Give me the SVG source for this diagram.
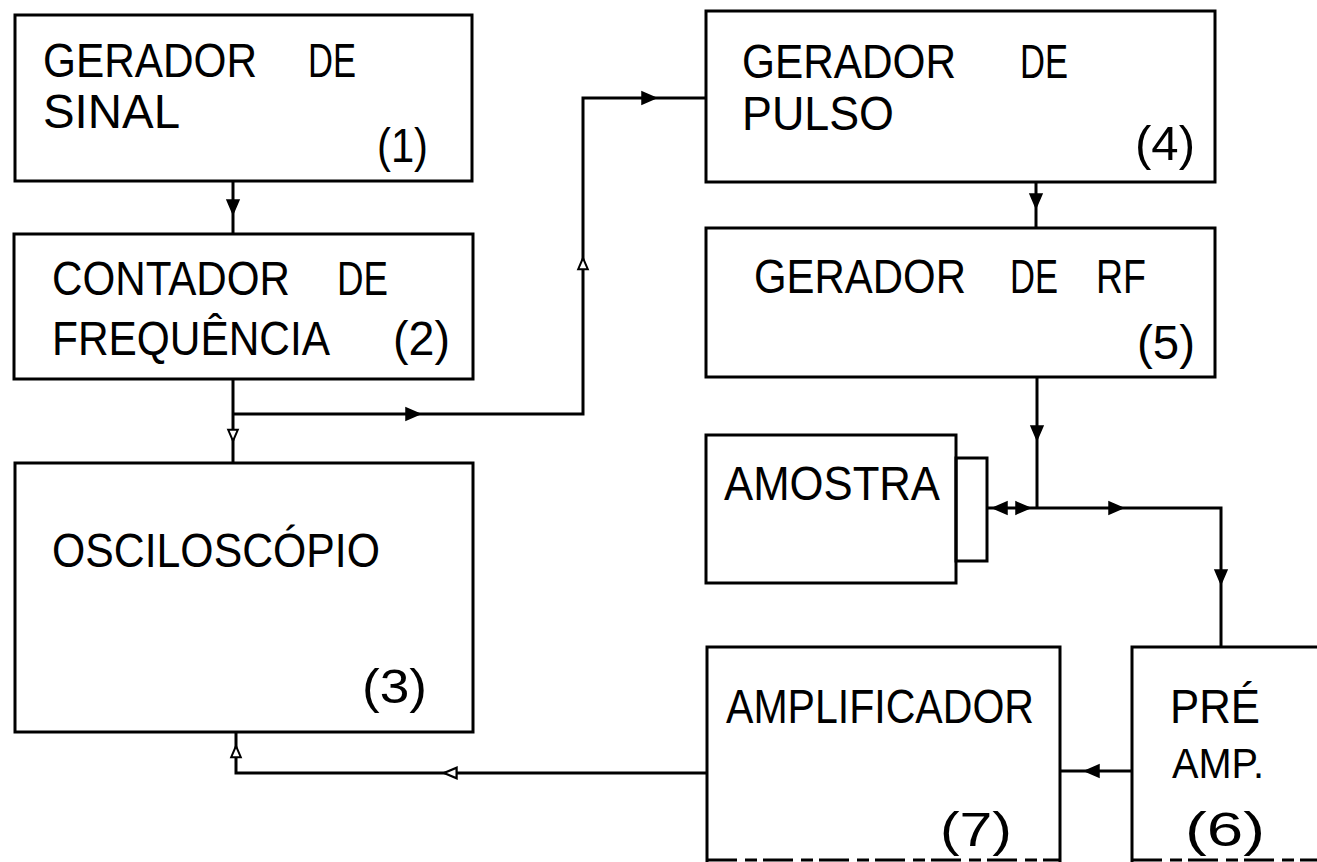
<svg xmlns="http://www.w3.org/2000/svg" width="1317" height="862" viewBox="0 0 1317 862">
<style>
.box{fill:none;stroke:#000;stroke-width:3}
.ln{fill:none;stroke:#000;stroke-width:3}
.t{font-family:"Liberation Sans",Arial,sans-serif;font-size:48px;fill:#000}
.ah{fill:#000;stroke:#000;stroke-width:1.5}
.ho{fill:#fff;stroke:#000;stroke-width:2.5}
</style>
<defs>
<path id="a" d="M0,0 L-14,-6 L-14,6 Z"/>
</defs>
<rect width="1317" height="862" fill="#fff"/>
<g id="n1">
<rect class="box" x="15" y="15" width="457" height="166"/>
<text class="t" x="43" y="77" textLength="214" lengthAdjust="spacingAndGlyphs">GERADOR</text>
<text class="t" x="308" y="77" textLength="48" lengthAdjust="spacingAndGlyphs">DE</text>
<text class="t" x="43" y="128" textLength="137" lengthAdjust="spacingAndGlyphs">SINAL</text>
<text class="t" x="377" y="162" textLength="51" lengthAdjust="spacingAndGlyphs">(1)</text>
</g>
<g id="n2">
<rect class="box" x="14" y="234" width="459" height="145"/>
<text class="t" x="52" y="295" textLength="238" lengthAdjust="spacingAndGlyphs">CONTADOR</text>
<text class="t" x="337" y="295" textLength="51" lengthAdjust="spacingAndGlyphs">DE</text>
<text class="t" x="52" y="355" textLength="278" lengthAdjust="spacingAndGlyphs">FREQUÊNCIA</text>
<text class="t" x="393" y="355" textLength="57" lengthAdjust="spacingAndGlyphs">(2)</text>
</g>
<g id="n3">
<rect class="box" x="15" y="463" width="458" height="269"/>
<text class="t" x="52" y="567" textLength="328" lengthAdjust="spacingAndGlyphs">OSCILOSCÓPIO</text>
<text class="t" x="362" y="703" textLength="65" lengthAdjust="spacingAndGlyphs">(3)</text>
</g>
<g id="n4">
<rect class="box" x="706" y="11" width="509" height="171"/>
<text class="t" x="742" y="78" textLength="214" lengthAdjust="spacingAndGlyphs">GERADOR</text>
<text class="t" x="1020" y="78" textLength="48" lengthAdjust="spacingAndGlyphs">DE</text>
<text class="t" x="742" y="130" textLength="152" lengthAdjust="spacingAndGlyphs">PULSO</text>
<text class="t" x="1135" y="160" textLength="60" lengthAdjust="spacingAndGlyphs">(4)</text>
</g>
<g id="n5">
<rect class="box" x="706" y="228" width="509" height="149"/>
<text class="t" x="754" y="293" textLength="212" lengthAdjust="spacingAndGlyphs">GERADOR</text>
<text class="t" x="1010" y="293" textLength="48" lengthAdjust="spacingAndGlyphs">DE</text>
<text class="t" x="1096" y="293" textLength="50" lengthAdjust="spacingAndGlyphs">RF</text>
<text class="t" x="1137" y="359" textLength="58" lengthAdjust="spacingAndGlyphs">(5)</text>
</g>
<g id="amostra">
<rect class="box" x="706" y="435" width="250" height="148"/>
<rect class="box" x="956" y="458" width="31" height="103"/>
<text class="t" x="724" y="500" textLength="216" lengthAdjust="spacingAndGlyphs">AMOSTRA</text>
</g>
<g id="n7">
<path class="box" d="M707,862 V647 H1060 V862"/>
<line class="box" x1="707" y1="860" x2="1060" y2="860" stroke-dasharray="30 8 12 6"/>
<text class="t" x="726" y="723" textLength="308" lengthAdjust="spacingAndGlyphs">AMPLIFICADOR</text>
<text class="t" x="940" y="846" textLength="72" lengthAdjust="spacingAndGlyphs">(7)</text>
</g>
<g id="n6">
<path class="box" d="M1132,862 V647 H1320"/>
<line class="box" x1="1132" y1="860" x2="1317" y2="860" stroke-dasharray="30 8 12 6"/>
<text class="t" x="1170" y="723" textLength="90" lengthAdjust="spacingAndGlyphs">PRÉ</text>
<text class="t" x="1172" y="778" style="font-size:42px" textLength="92" lengthAdjust="spacingAndGlyphs">AMP.</text>
<text class="t" x="1185" y="846" textLength="80" lengthAdjust="spacingAndGlyphs">(6)</text>
</g>
<g id="connectors">
<line class="ln" x1="233" y1="181" x2="233" y2="234"/>
<use href="#a" class="ah" transform="translate(233,214) rotate(90)"/>
<line class="ln" x1="233" y1="379" x2="233" y2="463"/>
<use href="#a" class="ho" transform="translate(233,441) rotate(90) scale(0.8)"/>
<polyline class="ln" points="233,414 583,414 583,98 706,98"/>
<use href="#a" class="ah" transform="translate(420,414)"/>
<use href="#a" class="ho" transform="translate(583,258) rotate(-90) scale(0.8)"/>
<use href="#a" class="ah" transform="translate(656,98)"/>
<line class="ln" x1="1036" y1="182" x2="1036" y2="228"/>
<use href="#a" class="ah" transform="translate(1036,208) rotate(90)"/>
<line class="ln" x1="1037" y1="377" x2="1037" y2="508"/>
<use href="#a" class="ah" transform="translate(1037,440) rotate(90)"/>
<polyline class="ln" points="987,508 1221,508 1221,647"/>
<use href="#a" class="ah" transform="translate(993,508) rotate(180)"/>
<use href="#a" class="ah" transform="translate(1030,508)"/>
<use href="#a" class="ah" transform="translate(1123,508)"/>
<use href="#a" class="ah" transform="translate(1221,584) rotate(90)"/>
<line class="ln" x1="1132" y1="771" x2="1060" y2="771"/>
<use href="#a" class="ah" transform="translate(1085,771) rotate(180)"/>
<polyline class="ln" points="707,773 236,773 236,732"/>
<use href="#a" class="ho" transform="translate(444,773) rotate(180) scale(0.9)"/>
<use href="#a" class="ho" transform="translate(236,746) rotate(-90) scale(0.8)"/>
</g>
</svg>
